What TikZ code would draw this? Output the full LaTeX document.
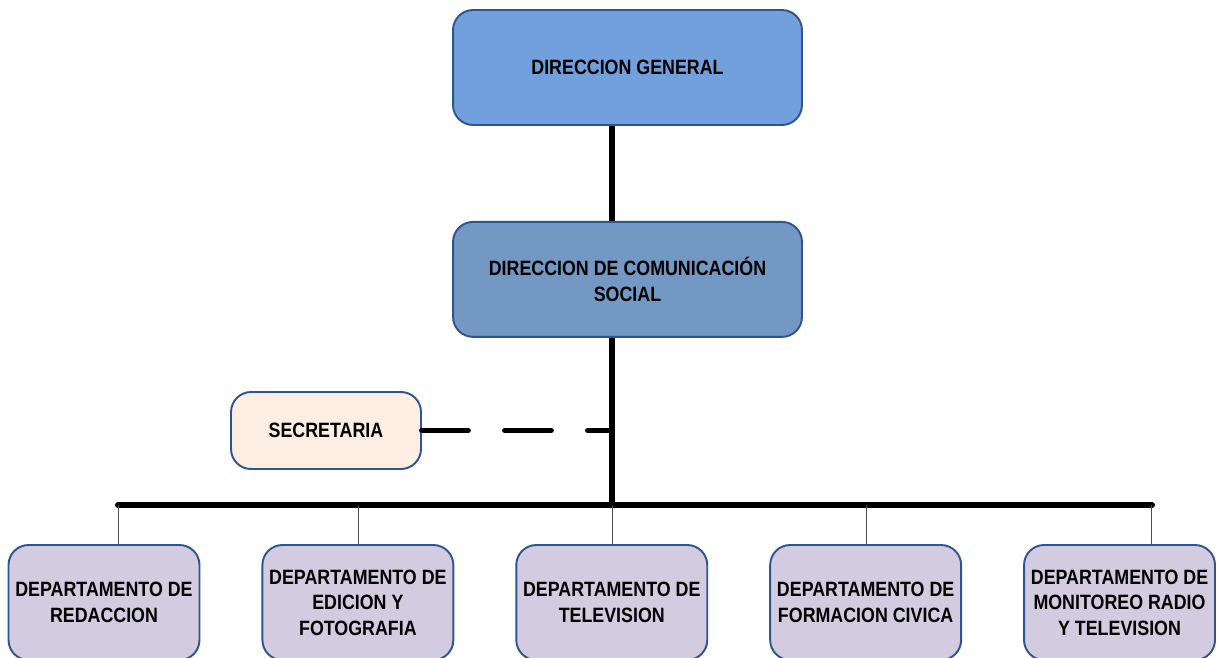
\documentclass[tikz,border=0pt]{standalone}
\usepackage{fontspec}
\setmainfont{Liberation Sans}[FakeStretch=0.86]
\usetikzlibrary{positioning}
\definecolor{skyblue}{HTML}{71A0DC}
\definecolor{steelblue}{HTML}{7398C4}
\definecolor{peach}{HTML}{FCEEE3}
\definecolor{lilac}{HTML}{D3CBE0}
\definecolor{navy}{HTML}{2E5590}

\begin{document}
\begin{tikzpicture}[x=0.02cm, y=-0.02cm,
    node distance=1.22cm,
    block/.style={rectangle, rounded corners=0.4cm, draw=navy, line width=1.1pt, minimum height=2.3cm, minimum width=3.82cm, align=center, inner sep=1pt, font=\fontsize{11.8}{14.5}\selectfont\bfseries},
    link/.style={line width=3.4pt, draw=black},
    drop/.style={line width=0.5pt, draw=black!70}
]
    \useasboundingbox (0,0) rectangle (1218,657);

    % Nodes
    \node[block, fill=skyblue, minimum width=6.98cm] (dg) at (627.5,67.5) {DIRECCION GENERAL};
    \node[block, fill=steelblue, minimum width=6.98cm, below=1.9cm of dg] (dcs) {DIRECCION DE COMUNICACIÓN\\SOCIAL};
    \node[block, fill=peach, minimum width=3.8cm, minimum height=1.54cm] (sec) at (326,430.5) {SECRETARIA};
    \node[block, fill=lilac] (redac) at (104,602.5) {DEPARTAMENTO DE\\REDACCION};
    \node[block, fill=lilac, right=of redac] (edic) {DEPARTAMENTO DE\\EDICION Y\\FOTOGRAFIA};
    \node[block, fill=lilac, right=of edic] (tv) {DEPARTAMENTO DE\\TELEVISION};
    \node[block, fill=lilac, right=of tv] (civica) {DEPARTAMENTO DE\\FORMACION CIVICA};
    \node[block, fill=lilac, right=of civica] (monit) {DEPARTAMENTO DE\\MONITOREO RADIO\\Y TELEVISION};

    % Bar
    \coordinate (hub) at (612,505);
    \coordinate (barl) at (118,505);
    \coordinate (barr) at (1152,505);

    % Connectors
    \draw[link] (hub |- dg.south) -- (hub |- dcs.north);
    \draw[link] (hub |- dcs.south) -- (hub);
    \draw[link, line cap=round] (barl) -- (barr);
    \draw[link, line cap=round, dash pattern=on 0.92cm off 0.74cm] (sec.east) -- (sec.east -| hub);
    \foreach \b/\x in {redac/118, edic/358, tv/612, civica/866, monit/1151} {
        \coordinate (t\b) at (\x,505);
        \draw[drop] (t\b) -- (t\b |- \b.north);
    }
\end{tikzpicture}
\end{document}
